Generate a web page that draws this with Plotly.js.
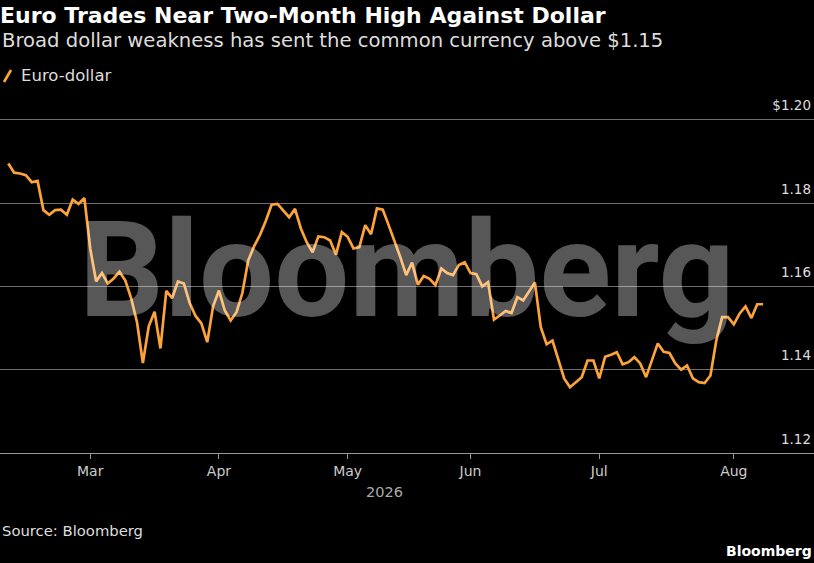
<!DOCTYPE html>
<html>
<head>
<meta charset="utf-8">
<script src="https://cdn.plot.ly/plotly-3.0.1.min.js"></script>
<style>
  html, body { margin: 0; padding: 0; background: #000; }
  #chart { width: 814px; height: 563px; }
</style>
</head>
<body>
<div id="chart"></div>
<script>
// ---- Data ----
const startDate = '2026-02-10';   // first trading day shown
const eurUsd = [
  1.1895, 1.1873, 1.1871, 1.1867, 1.1850, 1.1853, 1.1783, 1.1772, 1.1783, 1.1784,
  1.1772, 1.1808, 1.1798, 1.1812, 1.1691, 1.1612, 1.1632, 1.1607, 1.1619, 1.1635,
  1.1614, 1.1571, 1.1514, 1.1416, 1.1504, 1.1539, 1.1451, 1.1589, 1.1572, 1.1612,
  1.1607, 1.1560, 1.1529, 1.1511, 1.1466, 1.1552, 1.1590, 1.1542, 1.1518, 1.1538,
  1.1584, 1.1662, 1.1696, 1.1723, 1.1757, 1.1796, 1.1798, 1.1783, 1.1766, 1.1786,
  1.1739, 1.1706, 1.1682, 1.1720, 1.1718, 1.1710, 1.1676, 1.1730, 1.1719, 1.1691,
  1.1694, 1.1747, 1.1725, 1.1787, 1.1784, 1.1747, 1.1710, 1.1670, 1.1627, 1.1657,
  1.1604, 1.1625, 1.1618, 1.1603, 1.1643, 1.1632, 1.1627, 1.1651, 1.1658, 1.1632,
  1.1629, 1.1600, 1.1610, 1.1520, 1.1530, 1.1541, 1.1536, 1.1574, 1.1566, 1.1586,
  1.1609, 1.1502, 1.1461, 1.1470, 1.1422, 1.1379, 1.1358, 1.1370, 1.1382, 1.1422,
  1.1422, 1.1379, 1.1431, 1.1436, 1.1442, 1.1413, 1.1418, 1.1430, 1.1415, 1.1382,
  1.1422, 1.1463, 1.1443, 1.1440, 1.1415, 1.1400, 1.1410, 1.1379, 1.1370, 1.1368,
  1.1386, 1.1470, 1.1526, 1.1526, 1.1509, 1.1535, 1.1552, 1.1524, 1.1557, 1.1557
];
const monthTickDates = ['2026-03-02', '2026-04-01', '2026-05-01', '2026-06-01', '2026-07-01', '2026-08-03'];
const monthTickLabels = ['Mar', 'Apr', 'May', 'Jun', 'Jul', 'Aug'];
const yTickValues = [1.12, 1.14, 1.16, 1.18, 1.20];
const yTickLabels = ['1.12', '1.14', '1.16', '1.18', '$1.20'];
const seriesName = 'Euro-dollar';

// trading-day calendar (weekdays) for the x values
function tradingDays(start, n) {
  const out = [];
  const d = new Date(start + 'T00:00:00Z');
  while (out.length < n) {
    const wd = d.getUTCDay();
    if (wd !== 0 && wd !== 6) out.push(d.toISOString().slice(0, 10));
    d.setUTCDate(d.getUTCDate() + 1);
  }
  return out;
}
const dates = tradingDays(startDate, eurUsd.length);

const FONT = "'DejaVu Sans', 'Liberation Sans', sans-serif";
const WM_FONT = "Roboto, 'Liberation Sans', sans-serif";
const ORANGE = '#fca33a';

// pixel helpers for paper coordinates (plot area: x 0..814, y 88..453)
const T = 88, B = 453, W = 814;
const py = p => (B - p) / (B - T);
const px = p => p / W;

const trace = {
  x: dates,
  y: eurUsd,
  type: 'scatter',
  mode: 'lines',
  name: seriesName,
  line: { color: ORANGE, width: 2.7 },
  showlegend: false,
  hoverinfo: 'skip'
};

const layout = {
  width: 814,
  height: 563,
  paper_bgcolor: '#000',
  plot_bgcolor: '#000',
  margin: { l: 0, r: 0, t: T, b: 563 - B, pad: 0 },
  font: { family: FONT, color: '#ddd' },
  title: {
    text: '<b>Euro Trades Near Two-Month High Against Dollar</b>',
    font: { family: FONT, size: 22, color: '#fff' },
    x: 0, xref: 'container', xanchor: 'left',
    y: 1 - 15 / 563, yref: 'container', yanchor: 'middle'
  },
  xaxis: {
    type: 'date',
    range: ['2026-02-06 13:55', '2026-08-20 16:48'],
    rangebreaks: [{ bounds: ['sat', 'mon'] }],
    tickmode: 'array',
    tickvals: monthTickDates,
    ticktext: monthTickLabels,
    ticks: 'outside',
    ticklen: 5,
    tickwidth: 1,
    tickcolor: '#999',
    showline: true,
    linecolor: '#999',
    linewidth: 1,
    showgrid: false,
    zeroline: false,
    tickfont: { family: FONT, size: 14, color: '#ccc' },
    fixedrange: true
  },
  yaxis: {
    range: [1.12, 1.12 + (B - T) / 4166],
    side: 'right',
    tickmode: 'array',
    tickvals: yTickValues,
    ticktext: yTickLabels,
    ticklabelposition: 'inside',
    ticklabelshift: -14,
    ticks: '',
    showline: false,
    showgrid: true,
    gridcolor: '#6e6e6e',
    gridwidth: 1,
    zeroline: false,
    tickfont: { family: FONT, size: 13.5, color: '#ddd' },
    fixedrange: true
  },
  shapes: [
    { type: 'line', xref: 'paper', yref: 'paper',
      x0: px(4), y0: py(82), x1: px(11), y1: py(70),
      line: { color: ORANGE, width: 2.7 } }
  ],
  annotations: [
    { text: 'Broad dollar weakness has sent the common currency above $1.15',
      xref: 'paper', yref: 'paper', x: 0, y: py(41), xanchor: 'left', yanchor: 'middle',
      showarrow: false, font: { family: FONT, size: 19.6, color: '#ddd' } },
    { text: seriesName,
      xref: 'paper', yref: 'paper', x: px(19), y: py(76), xanchor: 'left', yanchor: 'middle',
      showarrow: false, font: { family: FONT, size: 16.5, color: '#ddd' } },
    { text: '<b>Bloomberg</b>',
      xref: 'paper', yref: 'paper', x: 0.5, y: py(270), xanchor: 'center', yanchor: 'middle',
      showarrow: false, font: { family: WM_FONT, size: 133, color: 'rgba(255,255,255,0.34)' } },
    { text: '2026',
      xref: 'paper', yref: 'paper', x: px(384), y: py(492), xanchor: 'center', yanchor: 'middle',
      showarrow: false, font: { family: FONT, size: 14.5, color: '#aaa' } },
    { text: 'Source: Bloomberg',
      xref: 'paper', yref: 'paper', x: 0, y: py(530), xanchor: 'left', yanchor: 'middle',
      showarrow: false, font: { family: FONT, size: 14.8, color: '#ddd' } },
    { text: '<b>Bloomberg</b>',
      xref: 'paper', yref: 'paper', x: 1, y: py(551), xanchor: 'right', yanchor: 'middle',
      showarrow: false, font: { family: FONT, size: 14, color: '#fff' } }
  ]
};

Plotly.newPlot('chart', [trace], layout, { displayModeBar: false, staticPlot: true });
</script>
</body>
</html>
